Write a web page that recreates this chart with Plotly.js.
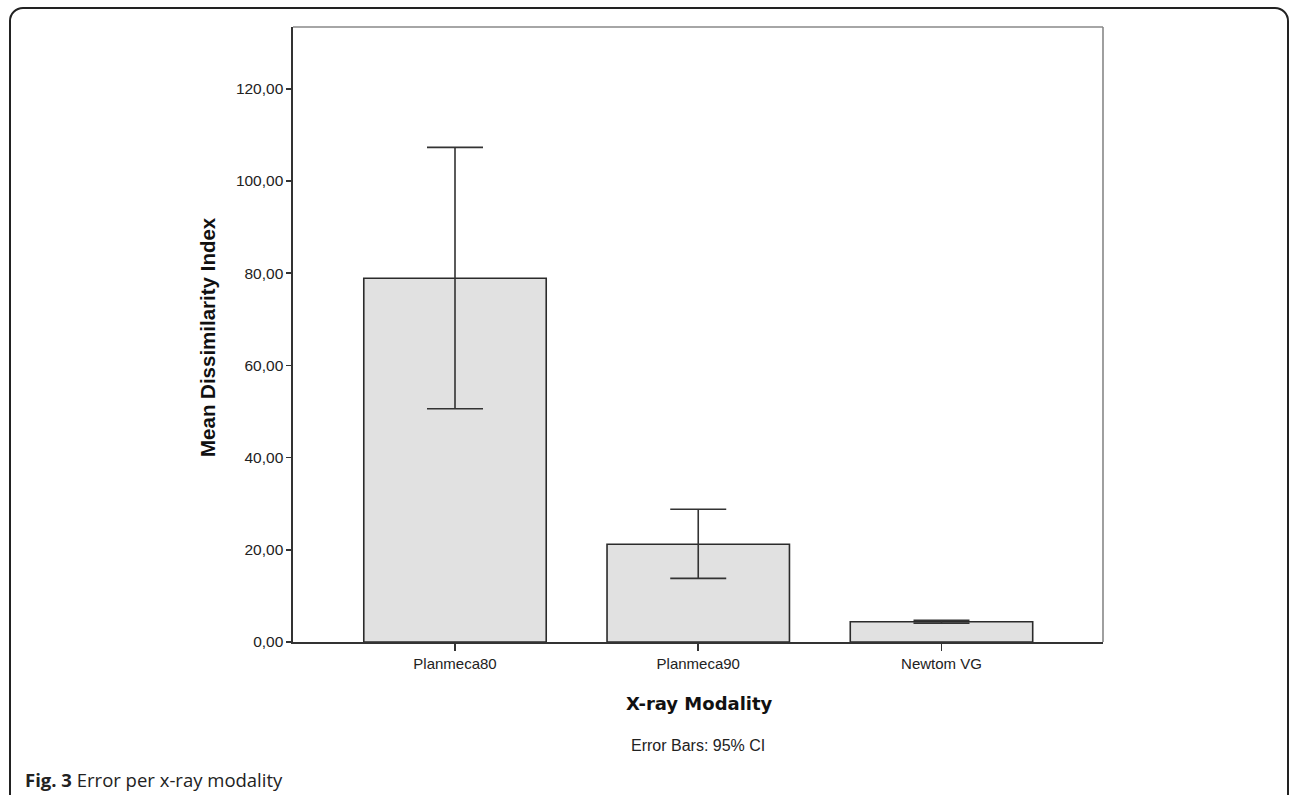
<!DOCTYPE html>
<html>
<head>
<meta charset="utf-8">
<script src="https://cdn.plot.ly/plotly-3.0.1.min.js"></script>
<style>
  html, body { margin: 0; padding: 0; background: #ffffff; width: 1292px; height: 795px; overflow: hidden; }
  #frame { position: absolute; left: 9px; top: 7px; width: 1280px; height: 820px;
           border: 2px solid #222; border-radius: 14px; box-sizing: border-box; }
  #caption { position: absolute; left: 25px; top: 767px; font-family: "Open Sans", "Noto Sans", sans-serif;
             font-size: 18.5px; color: #222; }
  #chart { position: absolute; left: 0; top: 0; width: 1292px; height: 795px; }
</style>
</head>
<body>
<div id="frame"></div>
<div id="chart"></div>
<div id="caption"><b>Fig. 3</b> Error per x-ray modality</div>
<script>
const categories = ["Planmeca80", "Planmeca90", "Newtom VG"];
const meanValues = [78.9, 21.2, 4.4];
const ciUpper = [107.3, 28.8, 4.7];
const ciLower = [50.6, 13.8, 4.1];
const yTickValues = [0, 20, 40, 60, 80, 100, 120];

const errPlus = meanValues.map((m, i) => ciUpper[i] - m);
const errMinus = meanValues.map((m, i) => m - ciLower[i]);

const W = 1292, H = 795;
const L = 293, R = 1103, T = 27, B = 642;
const px = x => (x - L) / (R - L);
const py = y => (B - y) / (B - T);

const trace = {
  type: 'bar',
  x: [0, 1, 2],
  y: meanValues,
  width: 0.75,
  marker: { color: '#e1e1e1', line: { color: '#2b2b2b', width: 1.6 } },
  error_y: { type: 'data', symmetric: false, array: errPlus, arrayminus: errMinus,
             color: '#333333', thickness: 1.6, width: 28 },
  hoverinfo: 'skip'
};

const layout = {
  width: W, height: H,
  margin: { l: L, r: W - R, t: T, b: H - B, pad: 0 },
  paper_bgcolor: 'rgba(0,0,0,0)',
  plot_bgcolor: '#ffffff',
  separators: ',.',
  showlegend: false,
  bargap: 0.25,
  xaxis: {
    range: [-0.666, 2.664],
    tickmode: 'array', tickvals: [0, 1, 2], ticktext: categories,
    ticks: 'outside', ticklen: 7, tickwidth: 1.5, tickcolor: '#333',
    showline: true, linecolor: '#333', linewidth: 1.6,
    showgrid: false, zeroline: false, fixedrange: true,
    tickfont: { family: 'Arial, "Liberation Sans", sans-serif', size: 15, color: '#222' }
  },
  yaxis: {
    range: [0, 133.4],
    tickmode: 'array', tickvals: yTickValues, tickformat: '.2f',
    ticks: 'outside', ticklen: 5, tickwidth: 1.5, tickcolor: '#333',
    showline: true, linecolor: '#333', linewidth: 1.6,
    showgrid: false, zeroline: false, fixedrange: true,
    tickfont: { family: 'Arial, "Liberation Sans", sans-serif', size: 15.5, color: '#222' }
  },
  shapes: [
    { type: 'line', xref: 'paper', yref: 'paper', x0: 0, x1: 1, y0: 1, y1: 1,
      line: { color: '#888', width: 1.6 } },
    { type: 'line', xref: 'paper', yref: 'paper', x0: 1, x1: 1, y0: 0, y1: 1,
      line: { color: '#888', width: 1.6 } }
  ],
  annotations: [
    { text: '<b>Mean Dissimilarity Index</b>', xref: 'paper', yref: 'paper',
      x: px(207), y: py(337), textangle: -90, showarrow: false,
      xanchor: 'center', yanchor: 'middle',
      font: { family: 'Arial, "Liberation Sans", sans-serif', size: 20.5, color: '#111' } },
    { text: '<b>X-ray Modality</b>', xref: 'paper', yref: 'paper',
      x: px(699), y: py(703), showarrow: false, xanchor: 'center', yanchor: 'middle',
      font: { family: '"DejaVu Sans", Verdana, sans-serif', size: 18, color: '#111' } },
    { text: 'Error Bars: 95% CI', xref: 'paper', yref: 'paper',
      x: px(698), y: py(745), showarrow: false, xanchor: 'center', yanchor: 'middle',
      font: { family: 'Arial, "Liberation Sans", sans-serif', size: 16, color: '#222' } }
  ]
};

Plotly.newPlot('chart', [trace], layout, { staticPlot: true, displayModeBar: false });
</script>
</body>
</html>
